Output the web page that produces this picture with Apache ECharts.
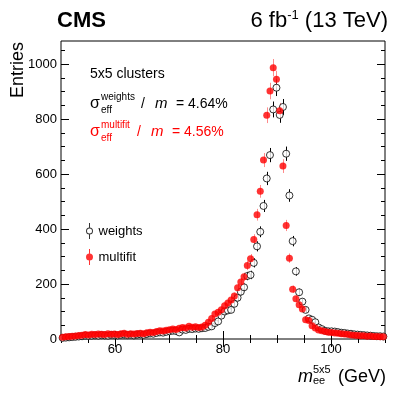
<!DOCTYPE html>
<html>
<head>
<meta charset="utf-8">
<title>m_ee 5x5</title>
<script src="https://cdn.jsdelivr.net/npm/echarts@6.0.0/dist/echarts.min.js"></script>
<style>
    html, body { margin: 0; padding: 0; background: #fff; }
    #chart { width: 407px; height: 399px; }
</style>
</head>
<body>
<div id="chart"></div>
<script>
    // histogram binning: 100 bins between 50 and 110 GeV
    const binLow = 50, binHigh = 110, nBins = 100;

    const weights = [
        4, 5, 6, 7, 8, 9, 10, 12, 11, 12,
        13, 12, 14, 13, 12, 15, 14, 13, 15, 16,
        14, 15, 13, 16, 17, 15, 18, 20, 19, 22,
        24, 23, 26, 28, 30, 29, 24, 34, 33, 37,
        36, 38, 37, 39, 40, 44, 46, 58, 64, 85,
        100, 104, 106, 128, 150, 172, 188, 229, 233, 277,
        337, 390, 484, 584, 669, 835, 914, 815, 844, 674,
        522, 356, 246, 170, 136, 106, 75, 70, 61, 42,
        36, 30, 28, 28, 27, 25, 23, 22, 20, 19,
        17, 16, 15, 14, 13, 12, 11, 10, 10, 9
    ];
    const multifit = [
        6, 8, 9, 10, 11, 13, 14, 16, 15, 17,
        16, 18, 17, 16, 19, 17, 18, 16, 19, 21,
        17, 19, 18, 20, 21, 19, 23, 25, 24, 27,
        30, 29, 32, 34, 36, 35, 39, 42, 40, 46,
        43, 45, 42, 44, 50, 61, 75, 91, 97, 106,
        121, 131, 142, 156, 186, 207, 226, 267, 292, 362,
        452, 537, 651, 814, 902, 987, 945, 830, 629, 413,
        294, 181, 146, 125, 109, 70, 67, 48, 40, 33,
        30, 27, 25, 24, 22, 21, 19, 18, 17, 15,
        14, 13, 12, 12, 10, 11, 9, 9, 8, 8
    ];

    const xMajor = [60, 80, 100];
    const xMinor = [50, 55, 60, 65, 70, 75, 80, 85, 90, 95, 100, 105, 110];
    const yMajor = [0, 200, 400, 600, 800, 1000];
    const yMinor = [0, 50, 100, 150, 200, 250, 300, 350, 400, 450, 500, 550, 600, 650, 700, 750, 800, 850, 900, 950, 1000, 1050];

    const FONT = '"Liberation Sans", Arial, Helvetica, sans-serif';
    const binWidth = (binHigh - binLow) / nBins;
    const toPoints = arr => arr.map((v, i) => [+(binLow + (i + 0.5) * binWidth).toFixed(2), v]);

    // vertical sqrt(N) error bars
    function errBars(color) {
        return function (params, api) {
            const x = api.value(0), y = api.value(1), e = Math.sqrt(y);
            const a = api.coord([x, y + e]);
            const b = api.coord([x, Math.max(y - e, 0)]);
            const px = Math.round(a[0]) + 0.5;
            return { type: 'line', shape: { x1: px, y1: a[1], x2: px, y2: b[1] }, style: { stroke: color, lineWidth: 1 } };
        };
    }

    function xAx(pos, ticks, len, labels) {
        return {
            type: 'value', min: binLow, max: binHigh, position: pos,
            axisLine: { show: false }, splitLine: { show: false },
            axisTick: { inside: true, length: len, customValues: ticks, lineStyle: { color: '#000', width: 1 } },
            axisLabel: labels ? { customValues: labels, formatter: v => String(v), color: '#000', fontSize: 13, fontFamily: FONT, margin: 4 } : { show: false }
        };
    }
    function yAx(pos, ticks, len, labels) {
        return {
            type: 'value', min: 0, max: 1084, position: pos,
            axisLine: { show: false }, splitLine: { show: false },
            axisTick: { inside: true, length: len, customValues: ticks, lineStyle: { color: '#000', width: 1 } },
            axisLabel: labels ? { customValues: labels, formatter: v => String(v), color: '#000', fontSize: 13, fontFamily: FONT, margin: 4 } : { show: false }
        };
    }

    const ringIcon = 'path://M0.5,8 A3.5,3.5 0 1,0 7.5,8 A3.5,3.5 0 1,0 0.5,8 Z M1.5,8 A2.5,2.5 0 1,1 6.5,8 A2.5,2.5 0 1,1 1.5,8 Z M3.5,0 L4.5,0 L4.5,4.5 L3.5,4.5 Z M3.5,11.5 L4.5,11.5 L4.5,16 L3.5,16 Z';
    const dotIcon = 'path://M0.5,8 A3.5,3.5 0 1,0 7.5,8 A3.5,3.5 0 1,0 0.5,8 Z M3.5,0 L4.5,0 L4.5,4.5 L3.5,4.5 Z M3.5,11.5 L4.5,11.5 L4.5,16 L3.5,16 Z';

    function txt(text, x, y, font, fill, align, extra) {
        return Object.assign({
            type: 'text', x: x, y: y, silent: true,
            style: { text: text, font: font, fill: fill || '#000', align: align || 'left', textAlign: align || 'left', verticalAlign: 'middle', textVerticalAlign: 'middle' }
        }, extra || {});
    }

    const chart = echarts.init(document.getElementById('chart'));
    chart.setOption({
        animation: false,
        backgroundColor: '#fff',
        grid: { left: 61, right: 22, top: 41, bottom: 60, show: true, borderColor: '#000', borderWidth: 1, backgroundColor: 'transparent', containLabel: false, outerBoundsMode: 'none' },
        xAxis: [xAx('bottom', xMajor, 8, xMajor), xAx('bottom', xMinor, 4), xAx('top', xMajor, 8), xAx('top', xMinor, 4)],
        yAxis: [yAx('left', yMajor, 8, yMajor), yAx('left', yMinor, 4), yAx('right', yMajor, 8), yAx('right', yMinor, 4)],
        legend: {
            orient: 'vertical', left: 86, top: 223, padding: 0, itemGap: 10,
            itemWidth: 8, itemHeight: 16, selectedMode: false,
            textStyle: { fontSize: 13, color: '#000', fontFamily: FONT },
            data: [
                { name: 'weights', icon: ringIcon, itemStyle: { color: '#000', borderWidth: 0 } },
                { name: 'multifit', icon: dotIcon, itemStyle: { color: '#ff0000', borderWidth: 0 } }
            ]
        },
        series: [
            { type: 'custom', name: 'weights err', clip: true, renderItem: errBars('#000'), encode: { x: 0, y: 1 }, data: toPoints(weights) },
            { type: 'scatter', name: 'weights', symbol: 'circle', symbolSize: 7, itemStyle: { color: '#fff', borderColor: '#000', borderWidth: 1 }, data: toPoints(weights) },
            { type: 'custom', name: 'multifit err', clip: true, renderItem: errBars('rgba(255,60,60,0.6)'), encode: { x: 0, y: 1 }, data: toPoints(multifit) },
            { type: 'scatter', name: 'multifit', symbol: 'circle', symbolSize: 7, itemStyle: { color: '#ff0000' }, data: toPoints(multifit) }
        ],
        graphic: [
            txt('CMS', 57, 21, 'bold 22px ' + FONT, '#000', 'left'),
            {
                type: 'text', x: 388, y: 21, silent: true,
                style: {
                    text: '{a|6 fb}{s|-1}{a| (13 TeV)}', align: 'right', textAlign: 'right', verticalAlign: 'middle', textVerticalAlign: 'middle',
                    rich: {
                        a: { fontSize: 22, fontFamily: FONT, color: '#000', lineHeight: 25 },
                        s: { fontSize: 13, fontFamily: FONT, color: '#000', verticalAlign: 'top', lineHeight: 25 }
                    }
                }
            },
            txt('5x5 clusters', 90, 74, '14px ' + FONT),
            // sigma_eff^weights / m
            txt('σ', 90, 104, '16px ' + FONT),
            txt('weights', 101, 97, '10px ' + FONT),
            txt('eff', 101, 110, '10px ' + FONT),
            txt('/', 141, 104, '14px ' + FONT),
            txt('m', 155, 104, 'italic 15px ' + FONT),
            txt('= 4.64%', 176, 104, '14px ' + FONT),
            // sigma_eff^multifit / m
            txt('σ', 90, 132, '16px ' + FONT, '#ff0000'),
            txt('multifit', 101, 125, '10px ' + FONT, '#ff0000'),
            txt('eff', 101, 138, '10px ' + FONT, '#ff0000'),
            txt('/', 137, 132, '14px ' + FONT, '#ff0000'),
            txt('m', 151, 132, 'italic 15px ' + FONT, '#ff0000'),
            txt('= 4.56%', 172, 132, '14px ' + FONT, '#ff0000'),
            // axis titles
            txt('(GeV)', 386, 377, '18px ' + FONT, '#000', 'right'),
            txt('m', 298, 377, 'italic 18px ' + FONT),
            txt('5x5', 313, 370, '11px ' + FONT),
            txt('ee', 313, 381, '11px ' + FONT),
            txt('Entries', 18, 42, '18px ' + FONT, '#000', 'right', { rotation: Math.PI / 2 })
        ]
    });
</script>
</body>
</html>
